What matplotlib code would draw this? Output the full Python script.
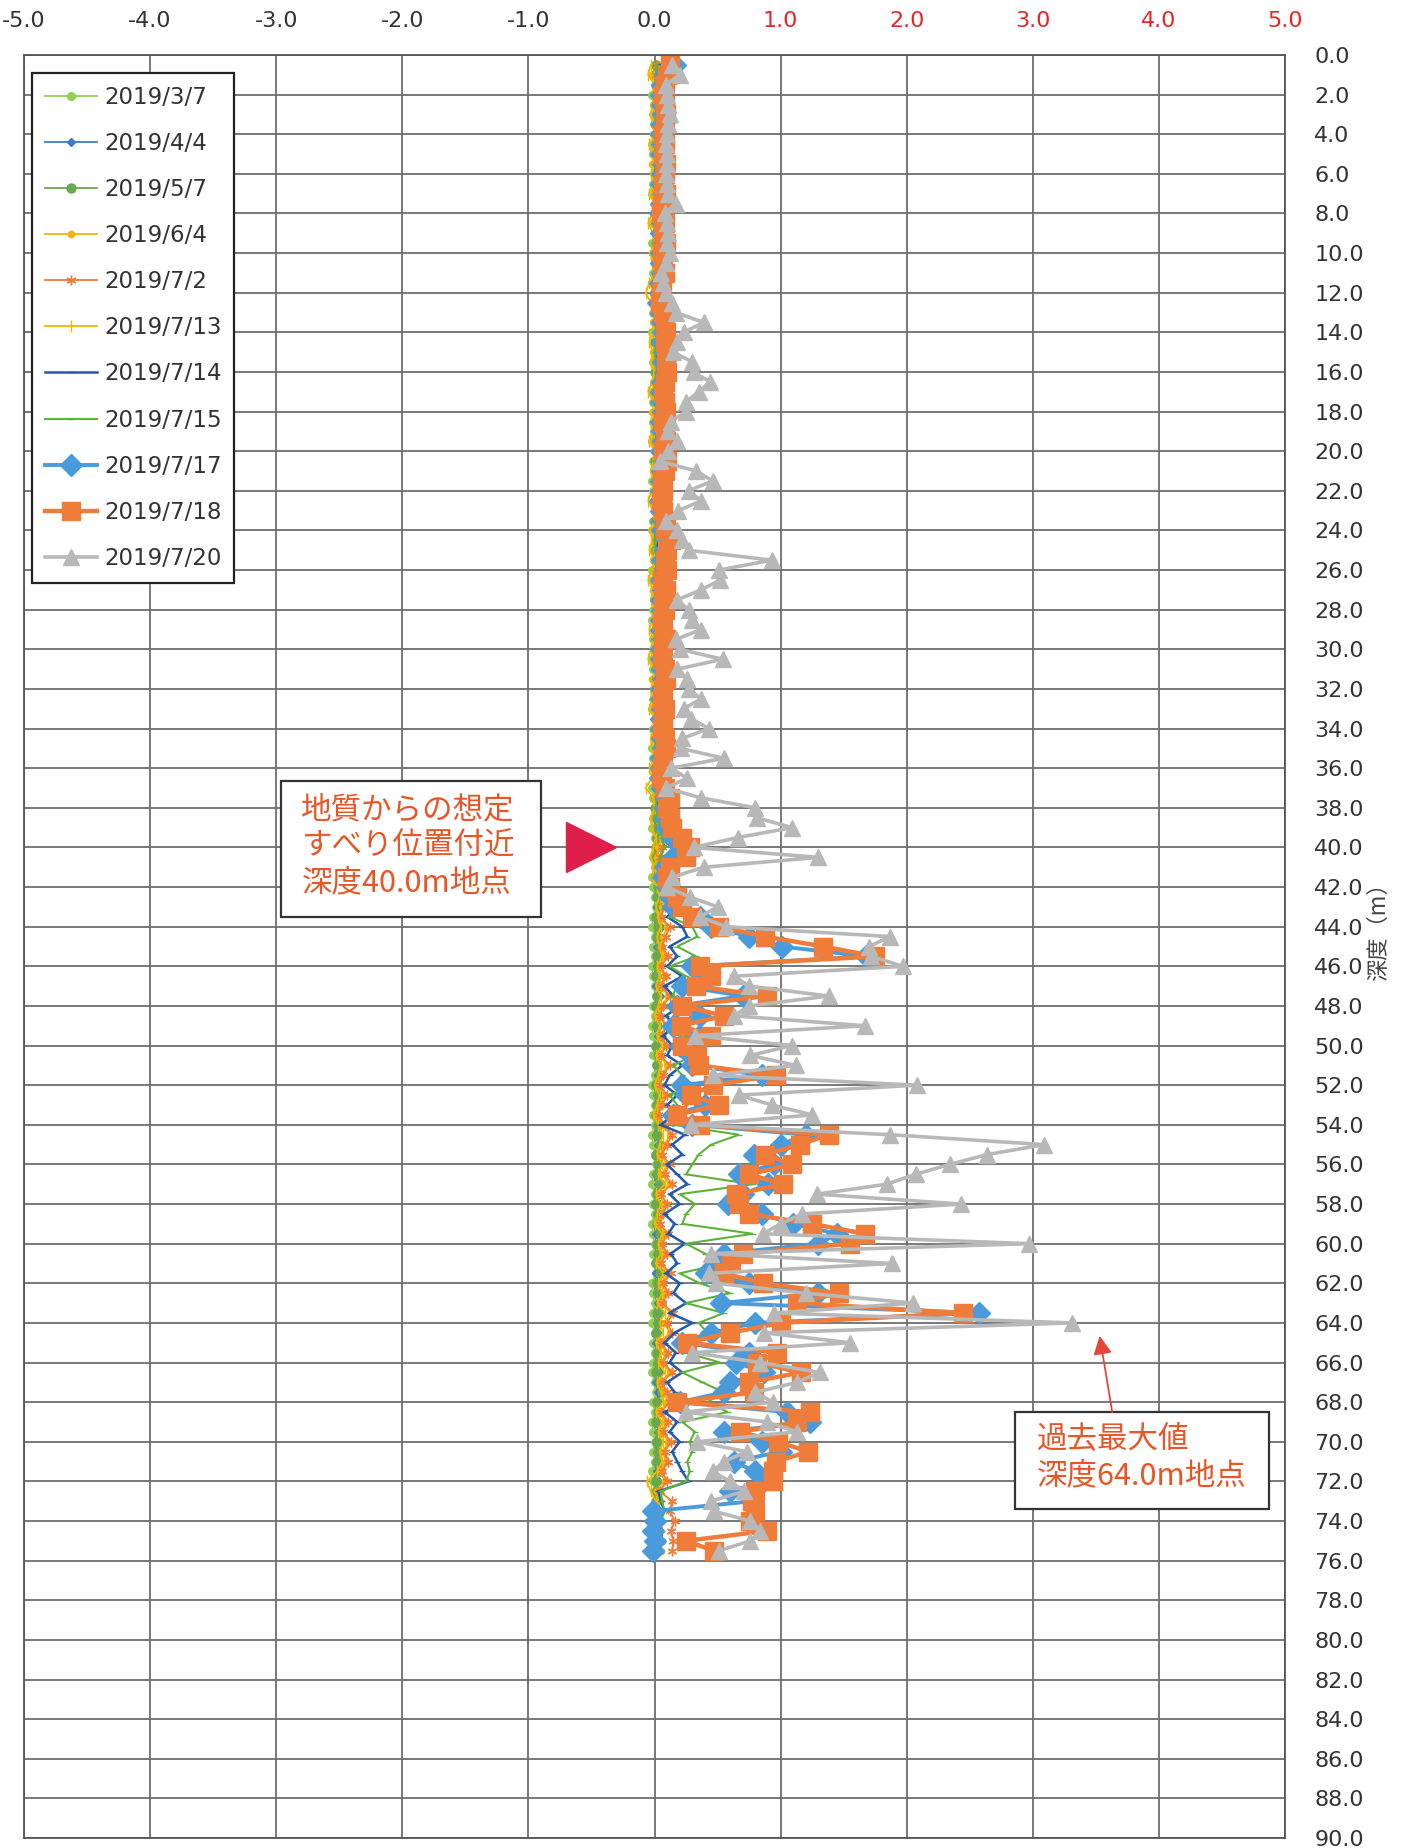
import numpy as np
import matplotlib
matplotlib.use("Agg")
import matplotlib.pyplot as plt
from matplotlib.patches import Rectangle

plt.rcParams['font.family'] = ['DejaVu Sans', 'Noto Sans CJK JP']
plt.rcParams['axes.unicode_minus'] = False

# measurement depths (m), every 0.5 m from 0.5 to 75.5
depth = np.arange(0.5, 75.51, 0.5)

# cumulative displacement per survey date
s0307 = [
    0.00, -0.01, 0.01, -0.02, 0.00, -0.01, 0.01, 0.00, -0.02, -0.01,
    0.00, 0.01, -0.01, -0.02, 0.00, 0.01, -0.01, 0.00, -0.02, -0.01,
    0.00, -0.01, -0.02, 0.00, 0.01, -0.01, 0.00, -0.02, -0.01, 0.00,
    -0.01, 0.01, 0.00, -0.02, -0.01, 0.00, -0.01, 0.01, -0.02, 0.00,
    -0.01, 0.00, -0.02, -0.01, 0.01, 0.00, -0.01, -0.02, 0.00, -0.01,
    0.00, -0.02, -0.01, 0.01, 0.00, -0.01, -0.02, 0.00, -0.01, 0.00,
    -0.02, -0.01, 0.00, 0.01, -0.01, -0.02, 0.00, -0.01, 0.00, -0.02,
    -0.01, 0.00, 0.01, -0.02, -0.01, 0.00, -0.01, -0.02, 0.00, 0.01,
    -0.01, 0.00, -0.02, -0.01, 0.00, 0.01, -0.01, -0.02, 0.00, -0.01,
    0.00, -0.02, -0.01, 0.00, 0.01, -0.01, 0.00, -0.02, -0.01, 0.00,
    -0.01, 0.01, 0.00, -0.02, -0.01, 0.00, -0.01, 0.00, -0.02, -0.01,
    0.00, 0.01, -0.01, -0.02, 0.00, -0.01, 0.00, -0.02, -0.01, 0.00,
    -0.01, 0.00, 0.01, -0.02, -0.01, 0.00, -0.01, -0.02, 0.00, -0.01,
    0.00, -0.01, -0.02, 0.00, 0.01, -0.01, 0.00, -0.02, -0.01, 0.00,
    -0.01, 0.00, -0.02, -0.01, 0.00, 0.01, -0.01, -0.02, 0.00, -0.01,
    0.00]

s0404 = [
    0.16, 0.04, 0.02, 0.01, 0.02, 0.03, 0.02, 0.01, 0.02, 0.01,
    0.02, 0.03, 0.01, 0.02, 0.01, 0.00, 0.02, 0.01, 0.03, 0.02,
    0.01, 0.02, 0.00, 0.01, 0.00, 0.02, 0.01, 0.02, 0.03, 0.01,
    0.02, 0.01, 0.03, 0.02, 0.01, 0.02, 0.00, 0.01, 0.02, 0.01,
    0.03, 0.02, 0.01, 0.02, 0.00, 0.01, 0.02, 0.03, 0.01, 0.02,
    0.01, 0.02, 0.00, 0.01, 0.02, 0.01, 0.03, 0.02, 0.01, 0.00,
    0.02, 0.01, 0.02, 0.03, 0.01, 0.02, 0.00, 0.01, 0.02, 0.01,
    0.03, 0.02, 0.01, 0.02, 0.01, 0.03, 0.02, 0.04, 0.05, 0.03,
    0.02, 0.01, 0.02, 0.03, 0.04, 0.02, 0.03, 0.05, 0.03, 0.02,
    0.04, 0.02, 0.03, 0.01, 0.04, 0.02, 0.03, 0.01, 0.03, 0.02,
    0.04, 0.02, 0.03, 0.01, 0.02, 0.04, 0.02, 0.03, 0.01, 0.03,
    0.02, 0.04, 0.01, 0.03, 0.02, 0.04, 0.02, 0.03, 0.01, 0.04,
    0.02, 0.03, 0.01, 0.04, 0.02, 0.03, 0.05, 0.02, 0.03, 0.01,
    0.03, 0.02, 0.04, 0.01, 0.03, 0.02, 0.04, 0.02, 0.03, 0.01,
    0.02, 0.04, 0.02, 0.03, 0.01, 0.02, 0.01, 0.02, 0.00, 0.01,
    0.01]

s0507 = [
    0.01, 0.00, 0.01, 0.02, 0.00, 0.01, 0.00, 0.01, 0.02, 0.01,
    0.00, 0.01, 0.02, 0.00, 0.01, 0.01, 0.00, 0.02, 0.01, 0.00,
    0.01, 0.02, 0.00, 0.01, 0.00, 0.01, 0.02, 0.01, 0.00, 0.01,
    0.02, 0.00, 0.01, 0.01, 0.00, 0.02, 0.01, 0.00, 0.01, 0.02,
    0.00, 0.01, 0.02, 0.01, 0.00, 0.01, 0.00, 0.02, 0.01, 0.01,
    0.00, 0.02, 0.01, 0.00, 0.01, 0.02, 0.00, 0.01, 0.01, 0.00,
    0.02, 0.01, 0.00, 0.01, 0.02, 0.00, 0.01, 0.01, 0.00, 0.02,
    0.01, 0.00, 0.01, 0.02, 0.01, 0.00, 0.02, 0.03, 0.02, 0.01,
    0.00, 0.02, 0.01, 0.03, 0.02, 0.04, 0.01, 0.03, 0.02, 0.04,
    0.02, 0.03, 0.01, 0.04, 0.02, 0.01, 0.03, 0.02, 0.04, 0.01,
    0.03, 0.02, 0.04, 0.01, 0.03, 0.02, 0.01, 0.03, 0.02, 0.04,
    0.01, 0.03, 0.02, 0.04, 0.02, 0.01, 0.03, 0.02, 0.04, 0.02,
    0.03, 0.01, 0.04, 0.02, 0.03, 0.05, 0.02, 0.03, 0.01, 0.04,
    0.02, 0.03, 0.01, 0.04, 0.06, 0.02, 0.03, 0.01, 0.04, 0.02,
    0.03, 0.02, 0.04, 0.01, 0.02, 0.01, 0.02, 0.01, 0.02, 0.01,
    0.01]

s0604 = [
    0.05, -0.02, 0.00, 0.01, -0.01, 0.00, 0.02, -0.01, 0.00, 0.01,
    -0.02, 0.00, 0.01, -0.01, 0.02, 0.00, -0.01, 0.01, 0.00, -0.02,
    0.01, 0.00, -0.03, -0.01, 0.00, 0.02, -0.01, 0.00, 0.01, -0.01,
    0.00, 0.02, -0.01, 0.00, 0.01, -0.02, 0.00, 0.01, -0.01, 0.00,
    0.01, -0.01, 0.00, 0.02, -0.01, 0.00, 0.01, -0.02, 0.00, 0.01,
    -0.01, 0.00, 0.02, -0.01, 0.00, 0.01, -0.01, 0.00, 0.02, -0.01,
    0.00, 0.01, -0.02, 0.00, 0.01, -0.01, 0.00, 0.02, -0.01, 0.00,
    0.01, -0.01, 0.00, 0.02, 0.00, 0.03, 0.05, 0.04, 0.06, 0.03,
    0.02, 0.00, 0.03, 0.05, 0.08, 0.06, 0.04, 0.10, 0.07, 0.05,
    0.09, 0.04, 0.08, 0.05, 0.11, 0.06, 0.03, 0.09, 0.05, 0.08,
    0.04, 0.10, 0.06, 0.03, 0.08, 0.05, 0.02, 0.07, 0.12, 0.08,
    0.05, 0.10, 0.06, 0.12, 0.04, 0.08, 0.06, 0.03, 0.09, 0.05,
    0.08, 0.04, 0.11, 0.06, 0.09, 0.05, 0.13, 0.08, 0.12, 0.04,
    0.09, 0.06, 0.12, 0.05, 0.08, 0.10, 0.04, 0.09, 0.06, 0.11,
    0.07, 0.09, 0.05, 0.08, 0.02, 0.04, 0.03, 0.05, 0.04, 0.06,
    0.05]

s0702 = [
    0.02, 0.01, 0.03, 0.02, 0.01, 0.02, 0.03, 0.01, 0.02, 0.01,
    0.03, 0.02, 0.01, 0.02, 0.03, 0.01, 0.02, 0.02, 0.01, 0.03,
    0.02, 0.01, 0.02, 0.03, 0.01, 0.02, 0.01, 0.03, 0.02, 0.01,
    0.02, 0.03, 0.01, 0.02, 0.02, 0.01, 0.03, 0.02, 0.01, 0.02,
    0.03, 0.01, 0.02, 0.02, 0.01, 0.03, 0.02, 0.01, 0.02, 0.03,
    0.01, 0.02, 0.03, 0.01, 0.02, 0.02, 0.01, 0.03, 0.02, 0.01,
    0.02, 0.03, 0.01, 0.02, 0.01, 0.03, 0.02, 0.02, 0.01, 0.03,
    0.02, 0.01, 0.02, 0.03, 0.02, 0.04, 0.05, 0.06, 0.08, 0.06,
    0.04, 0.03, 0.05, 0.07, 0.10, 0.08, 0.05, 0.12, 0.09, 0.06,
    0.11, 0.05, 0.09, 0.06, 0.12, 0.07, 0.04, 0.10, 0.06, 0.09,
    0.05, 0.12, 0.07, 0.04, 0.10, 0.06, 0.03, 0.08, 0.14, 0.10,
    0.06, 0.12, 0.08, 0.14, 0.05, 0.10, 0.07, 0.04, 0.11, 0.06,
    0.10, 0.05, 0.13, 0.07, 0.11, 0.06, 0.15, 0.10, 0.14, 0.05,
    0.11, 0.07, 0.14, 0.06, 0.10, 0.12, 0.05, 0.11, 0.07, 0.13,
    0.08, 0.11, 0.06, 0.10, 0.04, 0.14, 0.12, 0.16, 0.13, 0.15,
    0.14]

s0713 = [
    -0.03, -0.05, 0.00, -0.02, 0.01, -0.03, -0.01, 0.00, -0.04, -0.02,
    0.00, -0.03, -0.01, -0.04, 0.00, -0.02, -0.05, -0.01, 0.00, -0.03,
    -0.02, 0.00, -0.04, -0.07, -0.03, -0.01, 0.00, -0.02, -0.04, -0.01,
    -0.03, 0.00, -0.02, -0.05, -0.01, 0.00, -0.03, -0.02, -0.04, 0.00,
    -0.01, -0.03, 0.00, -0.02, -0.05, -0.01, 0.00, -0.03, -0.02, -0.04,
    0.00, -0.02, -0.05, -0.01, -0.03, 0.00, -0.02, -0.04, -0.01, -0.03,
    -0.05, -0.01, 0.00, -0.03, -0.02, -0.04, 0.00, -0.01, -0.03, -0.02,
    0.00, -0.04, -0.02, -0.07, -0.01, 0.00, -0.03, -0.02, 0.01, -0.01,
    -0.03, 0.00, -0.02, 0.02, 0.04, 0.01, 0.03, 0.05, 0.02, 0.04,
    0.06, 0.02, 0.04, 0.01, 0.05, 0.03, 0.00, 0.04, 0.02, 0.06,
    0.01, 0.05, 0.03, 0.00, 0.04, 0.02, -0.01, 0.03, 0.07, 0.04,
    0.02, 0.06, 0.03, 0.08, 0.01, 0.05, 0.02, 0.00, 0.06, 0.03,
    0.05, 0.01, 0.07, 0.03, 0.06, 0.02, 0.08, 0.04, 0.07, 0.01,
    0.05, 0.03, 0.08, 0.02, 0.05, 0.07, 0.01, 0.06, 0.03, 0.07,
    0.04, 0.06, 0.02, -0.06, -0.03, 0.01, 0.02, 0.03, 0.01, 0.02,
    0.02]

s0714 = [
    0.04, 0.03, 0.02, 0.02, 0.03, 0.02, 0.01, 0.02, 0.03, 0.02,
    0.01, 0.02, 0.02, 0.03, 0.01, 0.02, 0.02, 0.01, 0.03, 0.02,
    0.01, 0.02, 0.01, 0.00, 0.01, 0.02, 0.02, 0.03, 0.02, 0.02,
    0.03, 0.02, 0.02, 0.01, 0.02, 0.03, 0.02, 0.01, 0.02, 0.02,
    0.03, 0.02, 0.01, 0.02, 0.01, 0.02, 0.03, 0.02, 0.03, 0.02,
    0.02, 0.03, 0.01, 0.02, 0.02, 0.01, 0.02, 0.02, 0.03, 0.01,
    0.02, 0.02, 0.03, 0.02, 0.01, 0.02, 0.02, 0.01, 0.02, 0.03,
    0.02, 0.01, 0.02, 0.02, 0.03, 0.02, 0.04, 0.05, 0.12, 0.15,
    0.08, 0.04, 0.03, 0.06, 0.12, 0.18, 0.10, 0.22, 0.26, 0.12,
    0.18, 0.10, 0.22, 0.08, 0.15, 0.20, 0.09, 0.16, 0.07, 0.14,
    0.10, 0.22, 0.12, 0.08, 0.18, 0.10, 0.15, 0.05, 0.24, 0.14,
    0.22, 0.10, 0.18, 0.26, 0.12, 0.20, 0.08, 0.16, 0.11, 0.24,
    0.13, 0.18, 0.09, 0.20, 0.15, 0.25, 0.12, 0.30, 0.16, 0.08,
    0.17, 0.12, 0.22, 0.10, 0.16, 0.24, 0.08, 0.18, 0.12, 0.20,
    0.14, 0.18, 0.22, 0.27, 0.03, 0.05, 0.08, 0.04, 0.06, 0.05,
    0.04]

s0715 = [
    0.02, 0.01, 0.02, 0.00, 0.01, 0.02, 0.01, 0.00, 0.01, 0.02,
    0.01, 0.00, 0.01, 0.02, 0.01, 0.00, 0.02, 0.01, 0.00, 0.01,
    0.02, 0.01, 0.00, -0.01, 0.01, 0.00, 0.01, 0.02, 0.01, 0.00,
    0.01, 0.02, 0.00, 0.01, 0.01, 0.02, 0.00, 0.01, 0.02, 0.01,
    0.00, 0.01, 0.02, 0.01, 0.00, 0.01, 0.02, 0.01, 0.00, 0.01,
    0.02, 0.01, 0.00, 0.01, 0.02, 0.01, 0.00, 0.01, 0.01, 0.02,
    0.00, 0.01, 0.02, 0.01, 0.00, 0.01, 0.02, 0.01, 0.00, 0.01,
    0.02, 0.01, 0.00, 0.01, 0.02, 0.01, 0.03, 0.04, 0.06, 0.08,
    0.05, 0.03, 0.02, 0.08, 0.15, 0.22, 0.12, 0.30, 0.34, 0.18,
    0.33, 0.12, 0.25, 0.18, 0.14, 0.28, 0.16, 0.10, 0.25, 0.14,
    0.30, 0.15, 0.22, 0.30, 0.12, 0.18, 0.08, 0.15, 0.67, 0.45,
    0.35, 0.30, 0.25, 0.78, 0.20, 0.32, 0.25, 0.22, 0.78, 0.25,
    0.40, 0.55, 0.20, 0.36, 0.60, 0.25, 0.55, 0.35, 0.42, 0.18,
    0.25, 0.52, 0.22, 0.38, 0.55, 0.42, 0.58, 0.22, 0.32, 0.28,
    0.30, 0.26, 0.28, 0.25, 0.05, 0.06, 0.08, 0.05, 0.04, 0.05,
    0.05]

s0717 = [
    0.16, 0.08, 0.06, 0.05, 0.06, 0.07, 0.06, 0.05, 0.06, 0.05,
    0.07, 0.06, 0.05, 0.07, 0.05, 0.04, 0.06, 0.05, 0.07, 0.05,
    0.05, 0.06, 0.04, 0.04, 0.03, 0.05, 0.06, 0.07, 0.06, 0.08,
    0.07, 0.08, 0.06, 0.05, 0.06, 0.07, 0.05, 0.06, 0.07, 0.05,
    0.08, 0.06, 0.05, 0.05, 0.04, 0.05, 0.07, 0.06, 0.10, 0.08,
    0.06, 0.08, 0.05, 0.07, 0.05, 0.06, 0.05, 0.05, 0.07, 0.05,
    0.05, 0.06, 0.07, 0.05, 0.05, 0.06, 0.05, 0.05, 0.06, 0.07,
    0.05, 0.05, 0.04, 0.06, 0.09, 0.08, 0.09, 0.10, 0.14, 0.22,
    0.15, 0.08, 0.07, 0.10, 0.12, 0.15, 0.36, 0.45, 0.75, 1.01,
    1.68, 0.30, 0.38, 0.22, 0.70, 0.18, 0.36, 0.15, 0.35, 0.20,
    0.28, 0.30, 0.85, 0.22, 0.25, 0.40, 0.15, 0.30, 1.20, 1.00,
    0.79, 0.95, 0.67, 0.90, 0.70, 0.58, 0.85, 1.10, 1.45, 1.30,
    0.55, 0.50, 0.41, 0.75, 1.30, 0.53, 2.57, 0.80, 0.45, 0.22,
    0.75, 0.65, 0.87, 0.60, 0.55, 0.20, 1.05, 1.23, 0.55, 0.85,
    1.00, 0.63, 0.80, 0.87, 0.60, 0.78, -0.01, 0.00, -0.01, 0.00,
    -0.01]

s0718 = [
    0.12, 0.10, 0.08, 0.07, 0.08, 0.09, 0.08, 0.07, 0.08, 0.07,
    0.09, 0.08, 0.07, 0.09, 0.06, 0.05, 0.08, 0.07, 0.09, 0.06,
    0.07, 0.08, 0.06, 0.05, 0.04, 0.07, 0.08, 0.09, 0.08, 0.10,
    0.09, 0.10, 0.08, 0.07, 0.08, 0.09, 0.07, 0.08, 0.09, 0.07,
    0.10, 0.08, 0.06, 0.07, 0.05, 0.07, 0.09, 0.08, 0.13, 0.10,
    0.08, 0.10, 0.06, 0.09, 0.07, 0.08, 0.06, 0.07, 0.09, 0.07,
    0.06, 0.08, 0.09, 0.07, 0.06, 0.08, 0.07, 0.06, 0.08, 0.09,
    0.07, 0.06, 0.05, 0.08, 0.12, 0.10, 0.12, 0.14, 0.22, 0.28,
    0.25, 0.12, 0.10, 0.12, 0.18, 0.22, 0.30, 0.51, 0.88, 1.34,
    1.75, 0.36, 0.45, 0.33, 0.89, 0.22, 0.55, 0.21, 0.45, 0.22,
    0.34, 0.35, 0.96, 0.46, 0.29, 0.51, 0.18, 0.36, 1.38, 1.15,
    0.88, 1.09, 0.75, 1.02, 0.65, 0.67, 0.75, 1.25, 1.67, 1.55,
    0.70, 0.61, 0.55, 0.86, 1.46, 1.13, 2.45, 1.00, 0.60, 0.26,
    0.97, 0.81, 1.16, 0.75, 0.79, 0.18, 1.23, 1.13, 0.68, 0.98,
    1.22, 0.96, 0.94, 0.94, 0.80, 0.77, 0.80, 0.76, 0.89, 0.25,
    0.47]

s0720 = [
    0.14, 0.20, 0.09, 0.10, 0.11, 0.12, 0.11, 0.10, 0.09, 0.10,
    0.10, 0.09, 0.10, 0.11, 0.17, 0.08, 0.10, 0.11, 0.10, 0.12,
    0.09, 0.05, 0.07, 0.09, 0.14, 0.17, 0.39, 0.23, 0.18, 0.15,
    0.30, 0.31, 0.44, 0.35, 0.25, 0.25, 0.13, 0.11, 0.18, 0.11,
    0.04, 0.33, 0.46, 0.27, 0.37, 0.19, 0.09, 0.18, 0.22, 0.27,
    0.93, 0.51, 0.52, 0.37, 0.18, 0.27, 0.30, 0.37, 0.17, 0.20,
    0.54, 0.18, 0.26, 0.27, 0.37, 0.23, 0.29, 0.43, 0.22, 0.21,
    0.55, 0.13, 0.26, 0.09, 0.37, 0.80, 0.81, 1.09, 0.66, 0.31,
    1.30, 0.39, 0.14, 0.10, 0.28, 0.50, 0.36, 0.57, 1.87, 1.70,
    1.72, 1.97, 0.63, 0.75, 1.38, 0.75, 0.63, 1.67, 0.32, 1.09,
    0.76, 1.12, 0.46, 2.08, 0.67, 0.93, 1.25, 0.29, 1.87, 3.09,
    2.64, 2.34, 2.07, 1.84, 1.29, 2.43, 1.17, 1.00, 0.86, 2.97,
    0.45, 1.88, 0.43, 0.49, 1.20, 2.05, 0.95, 3.31, 0.87, 1.55,
    0.30, 0.84, 1.31, 1.13, 0.80, 0.94, 0.25, 0.89, 1.13, 0.34,
    0.73, 0.55, 0.46, 0.60, 0.71, 0.45, 0.47, 0.76, 0.84, 0.76,
    0.51]

labels = ['2019/3/7', '2019/4/4', '2019/5/7', '2019/6/4', '2019/7/2',
          '2019/7/13', '2019/7/14', '2019/7/15', '2019/7/17', '2019/7/18',
          '2019/7/20']
series = [s0307, s0404, s0507, s0604, s0702, s0713, s0714, s0715,
          s0717, s0718, s0720]

styles = [
    dict(color='#92D050', marker='o', ms=5.5, lw=1.3),
    dict(color='#3B7DC4', marker='D', ms=4.5, lw=1.3),
    dict(color='#6AA84F', marker='o', ms=6.5, lw=1.3),
    dict(color='#F5B400', marker='o', ms=4.5, lw=1.3),
    dict(color='#F07C3A', marker=(6, 2, 0), ms=7, lw=1.3),
    dict(color='#F2B600', marker='|', ms=8, lw=1.3),
    dict(color='#1F5AAE', marker='_', ms=4, lw=1.8),
    dict(color='#5DB33A', marker='_', ms=4, lw=1.5),
    dict(color='#4A9BDB', marker='D', ms=11, lw=2.8),
    dict(color='#F07C3A', marker='s', ms=12.5, lw=3.2),
    dict(color='#B8B8B8', marker='^', ms=12, lw=2.6),
]

xticks = [-5, -4, -3, -2, -1, 0, 1, 2, 3, 4, 5]
yticks = list(range(0, 91, 2))

fig = plt.figure(figsize=(14.08, 18.48), dpi=100)
fig.patch.set_facecolor('white')
ax = fig.add_axes([24 / 1408, 1 - 1838 / 1848, (1285 - 24) / 1408, (1838 - 55) / 1848])

for vals, lab, st in zip(series, labels, styles):
    ax.plot(vals, depth, label=lab, color=st['color'], marker=st['marker'],
            ms=st['ms'], lw=st['lw'], mfc=st['color'], mec=st['color'],
            solid_joinstyle='miter')

ax.set_xlim(-5, 5)
ax.set_ylim(90, 0)
ax.set_xticks(xticks)
ax.set_xticklabels([f'{v:.1f}' for v in xticks])
ax.set_yticks(yticks)
ax.set_yticklabels([f'{v:.1f}' for v in yticks])
ax.tick_params(axis='x', top=True, bottom=False, labeltop=True, labelbottom=False,
               length=0, pad=17, labelsize=16)
ax.tick_params(axis='y', left=False, right=True, labelleft=False, labelright=True,
               length=0, pad=21, labelsize=16, labelcolor='#333333')
for v, t in zip(xticks, ax.get_xticklabels()):
    t.set_color('#E5252A' if v > 0 else '#333333')

ax.set_axisbelow(True)
ax.grid(True, color='#6e6e6e', lw=1.3)
for sp in ax.spines.values():
    sp.set_color('#555555')
    sp.set_linewidth(1.3)

fig.text(1378 / 1408, 1 - 926 / 1848, '深度（m）', rotation=90, ha='center',
         va='center', fontsize=16, color='#444444', family='Noto Sans CJK JP')

leg = ax.legend(loc='upper left', bbox_to_anchor=(8 / 1261, 1 - 18 / 1783),
                borderaxespad=0, fontsize=16.5, labelspacing=1.01, handlelength=2.3,
                handletextpad=0.3, borderpad=0.55, fancybox=False, framealpha=1,
                edgecolor='#222222', numpoints=1)
leg.get_frame().set_linewidth(1.6)
for t in leg.get_texts():
    t.set_color('#333333')

note_color = '#EA5525'
# slip-surface note
ax.add_patch(Rectangle((-2.96, 36.65), 2.06, 6.85, fc='white', ec='#333333',
                       lw=1.6, zorder=5))
ax.text(-2.80, 39.95, '地質からの想定\nすべり位置付近\n深度40.0m地点', ha='left',
        va='center', fontsize=22, color=note_color, linespacing=1.22,
        family='Noto Sans CJK JP', zorder=6)
ax.plot([-0.50], [40.0], marker='>', ms=36, color='#E01E4A', mec='#E01E4A',
        ls='none', zorder=6)

# maximum-value note
ax.add_patch(Rectangle((2.86, 68.5), 2.01, 4.9, fc='white', ec='#333333',
                       lw=1.6, zorder=5))
ax.text(3.03, 70.8, '過去最大値\n深度64.0m地点', ha='left', va='center',
        fontsize=22, color=note_color, linespacing=1.22,
        family='Noto Sans CJK JP', zorder=6)
ax.annotate('', xy=(3.53, 64.65), xytext=(3.63, 68.5),
            arrowprops=dict(arrowstyle='-|>', color='#E8453A', lw=1.3,
                            mutation_scale=28, shrinkA=0, shrinkB=0), zorder=6)

fig.savefig('out.png', dpi=100, facecolor='white')
